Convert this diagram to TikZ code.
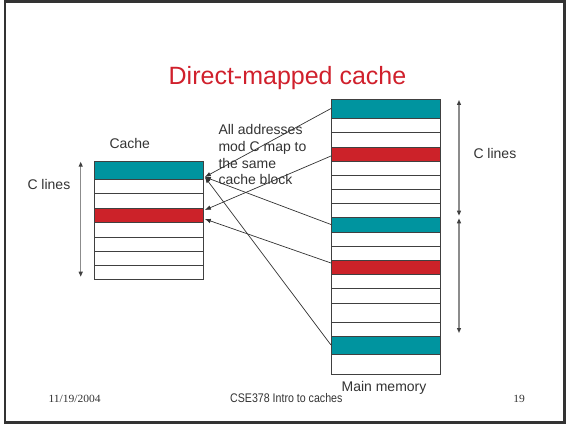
\documentclass[tikz,border=0pt]{standalone}
\usepackage{fontspec}
\setmainfont{Liberation Sans}
\newfontfamily\serifft[FakeStretch=1.05]{Liberation Serif}
\newfontfamily\narrowft[FakeStretch=0.85]{Liberation Sans}
\usetikzlibrary{arrows.meta,calc}
\definecolor{tealfill}{RGB}{0,148,159}
\definecolor{redfill}{RGB}{204,34,41}
\definecolor{titlered}{RGB}{208,32,44}
\definecolor{rowline}{RGB}{64,64,64}
\definecolor{dimgray}{RGB}{140,140,140}
\definecolor{framegray}{RGB}{51,51,51}
\definecolor{conngray}{RGB}{50,50,50}
\begin{document}
\begin{tikzpicture}[x=1pt,y=-1pt,
  rowbox/.style={draw=rowline,line width=0.9pt,minimum width=109pt,inner sep=0pt,outer sep=0pt,anchor=north west},
  conn/.style={draw=conngray,line width=0.7pt,-{Latex[length=6pt,width=4.5pt]}},
  dimarrow/.style={draw=dimgray,line width=1.2pt,
     {Triangle[length=5pt,width=4pt,color=black!75]}-{Triangle[length=5pt,width=4pt,color=black!75]}},
  lbl/.style={font=\fontsize{14}{16.8}\selectfont,inner sep=0pt,anchor=base west,text=black!80},
  foot/.style={inner sep=0pt,text=black!80}]
\useasboundingbox (0,0) rectangle (568,425);
\draw[framegray,line width=2.5pt] (5,1.3) rectangle (564.5,422.5);
% title
\node[font=\fontsize{25}{30}\selectfont,text=titlered,inner sep=0pt,anchor=base] (title) at (287.5,85) {Direct-mapped cache};
% cache rows
\foreach \n/\t/\h/\f in {c1/161/18/tealfill,c2/179/14/white,c3/193/15/white,c4/208/14/redfill,
                        c5/222/15/white,c6/237/14/white,c7/251/14/white,c8/265/14/white}
  \node[rowbox,fill=\f,minimum height=\h pt] (\n) at (94.3,\t) {};
% memory rows
\foreach \n/\t/\h/\f in {m1/99/19/tealfill,m2/118/14/white,m3/132/15/white,m4/147/14/redfill,
                        m5/161/14/white,m6/175/14/white,m7/189/14/white,m8/203/14/white,
                        m9/217/15/tealfill,m10/232/14/white,m11/246/14/white,m12/260/14/redfill,
                        m13/274/14/white,m14/288/15/white,m15/303/19/white,m16/322/14/white,
                        m17/336/18/tealfill,m18/354/20/white}
  \node[rowbox,fill=\f,minimum height=\h pt] (\n) at (331,\t) {};
% labels
\node[lbl] (cachelbl) at (109.3,148.3) {Cache};
\node[lbl] (clinesL) at (27.3,189.3) {C lines};
\node[lbl] (clinesR) at (473.3,158.3) {C lines};
\node[lbl] (note1) at (218.3,135) {All addresses};
\node[lbl] (note2) at (218.3,151.7) {mod C map to};
\node[lbl] (note3) at (218.3,168.3) {the same};
\node[lbl] (note4) at (218.3,185) {cache block};
\node[lbl,anchor=base] (mainlbl) at (384,391.5) {Main memory};
% dimension arrows
\coordinate (dl1) at (80.7,161.7);
\coordinate (dl2) at (80.7,276.7);
\coordinate (dr1) at (459,100);
\coordinate (dr2) at (459,215.7);
\coordinate (dr3) at (459,218.3);
\coordinate (dr4) at (459,333);
\draw[dimarrow] (dl1) -- (dl2);
\draw[dimarrow] (dr1) -- (dr2);
\draw[dimarrow] (dr3) -- (dr4);
% mapping connectors
\draw[conn] (m1.west) -- ($(c1.south east)+(1.5,-2)$);
\draw[conn] ([yshift=-2pt]m4.west) -- ($(c4.north east)+(1.5,2)$);
\draw[conn] (m9.west) -- ($(c1.south east)+(1.5,-2)$);
\draw[conn] ([yshift=4pt]m12.west) -- ($(c4.east)+(1.5,4)$);
\draw[conn] (m17.west) -- ($(c1.south east)+(1.5,-2)$);
% footer
\node[foot,font=\serifft\fontsize{11}{13}\selectfont,anchor=base west] (date) at (48.3,402) {11/19/2004};
\node[foot,font=\narrowft\fontsize{12.5}{15}\selectfont,anchor=base west] (course) at (230,402) {CSE378 Intro to caches};
\node[foot,font=\serifft\fontsize{11}{13}\selectfont,anchor=base east] (page) at (525,402) {19};
\end{tikzpicture}
\end{document}
